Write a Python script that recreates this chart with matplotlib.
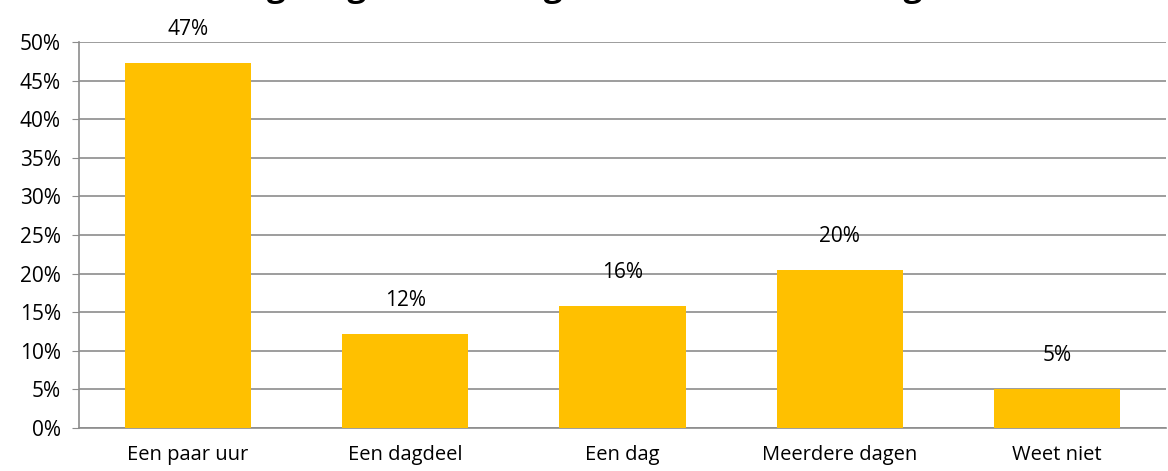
import matplotlib.pyplot as plt
import numpy as np

# data
categories = ["Een paar uur", "Een dagdeel", "Een dag", "Meerdere dagen", "Weet niet"]
values = [47.3, 12.2, 15.8, 20.5, 5.0]
labels = ["47%", "12%", "16%", "20%", "5%"]
title = "Hoe lang mag een storing maximaal duren volgens u?"

plt.rcParams['font.family'] = ['Open Sans', 'DejaVu Sans']

fig = plt.figure(figsize=(11.68, 4.71), dpi=100)
ax = fig.add_axes([79 / 1168, 1 - 428 / 471, 1087 / 1168, 386 / 471])

x = np.arange(len(categories))
ax.bar(x, values, width=0.58, color='#FFC000', zorder=3)

for xi, v, lab in zip(x, values, labels):
    ax.text(xi, v + 3.0, lab, ha='center', va='bottom', fontsize=15, color='black')

ax.set_xlim(-0.5, len(categories) - 0.5)
ax.set_ylim(0, 50)
ax.set_yticks(np.arange(0, 51, 5))
ax.set_yticklabels([f"{t}%" for t in range(0, 51, 5)], fontsize=15)
ax.set_xticks(x)
ax.set_xticklabels(categories, fontsize=14.5)
ax.tick_params(axis='x', length=0, pad=12)
ax.tick_params(axis='y', length=5, color='#8c8c8c', pad=8)

ax.grid(axis='y', color='#8c8c8c', linewidth=1.2, zorder=0)
for s in ['top', 'right']:
    ax.spines[s].set_visible(False)
for s in ['left', 'bottom']:
    ax.spines[s].set_color('#8c8c8c')
    ax.spines[s].set_linewidth(1.2)

# title runs off the top of the image, only the descenders show
fig.text(0.5, 1 + 3.5 / 471, title, ha='center', va='baseline', fontsize=24, fontweight='bold')

fig.savefig('out.png', dpi=100)
